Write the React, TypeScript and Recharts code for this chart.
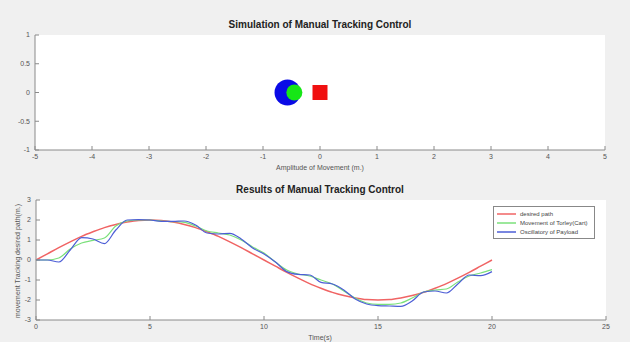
import React from 'react';
import {
  ScatterChart,
  Scatter,
  LineChart,
  Line,
  XAxis,
  YAxis,
  CartesianGrid,
} from 'recharts';

// Simulation panel (top)
const simTicksX = [-5, -4, -3, -2, -1, 0, 1, 2, 3, 4, 5];
const simTicksY = [-1, -0.5, 0, 0.5, 1];
const payloadPos = [{ x: -0.57, y: 0 }];
const cartPos = [{ x: -0.45, y: 0 }];
const targetPos = [{ x: 0, y: 0 }];

// Results panel (bottom)
const time = [
  0, 0.5, 1, 1.5, 2, 2.5, 3, 3.5, 4, 4.5, 5, 5.5, 6, 6.5, 7, 7.5, 8, 8.5, 9, 9.5, 10,
  10.5, 11, 11.5, 12, 12.5, 13, 13.5, 14, 14.5, 15, 15.5, 16, 16.5, 17, 17.5, 18, 18.5, 19, 19.5, 20,
];
const desiredPath = [
  0, 0.31, 0.62, 0.91, 1.18, 1.41, 1.62, 1.78, 1.9, 1.98, 2.0, 1.98, 1.9, 1.78, 1.62, 1.41, 1.18, 0.91, 0.62, 0.31, 0,
  -0.31, -0.62, -0.91, -1.18, -1.41, -1.62, -1.78, -1.9, -1.98, -2.0, -1.98, -1.9, -1.78, -1.62, -1.41, -1.18, -0.91, -0.62, -0.31, 0,
];
const cartMovement = [
  0, 0, 0.1, 0.55, 0.85, 0.98, 1.1, 1.7, 1.95, 2.0, 2.0, 1.95, 1.92, 1.88, 1.7, 1.45, 1.35, 1.25, 1.0, 0.65, 0.35,
  -0.1, -0.5, -0.7, -0.8, -1.0, -1.2, -1.55, -1.9, -2.15, -2.22, -2.22, -2.15, -1.9, -1.6, -1.5, -1.45, -1.1, -0.8, -0.65, -0.48,
];
const payloadOsc = [
  0, 0, -0.1, 0.5, 1.12, 1.05, 0.82, 1.5, 2.0, 2.02, 2.0, 1.93, 1.93, 1.95, 1.75, 1.35, 1.3, 1.33, 1.05, 0.6, 0.3,
  -0.1, -0.58, -0.72, -0.75, -1.12, -1.2, -1.5, -1.95, -2.2, -2.28, -2.3, -2.32, -2.05, -1.6, -1.55, -1.65, -1.2, -0.75, -0.78, -0.58,
];
const timeTicks = [0, 5, 10, 15, 20, 25];
const pathTicks = [-3, -2, -1, 0, 1, 2, 3];

const results = time.map((t, i) => ({
  t,
  desired: desiredPath[i],
  cart: cartMovement[i],
  payload: payloadOsc[i],
}));

const FONT = '"Liberation Sans", Arial, sans-serif';
const AXIS = '#8a8a8a';
const tickStyle = { fontSize: 7, fill: '#555', fontFamily: FONT };

const RED = '#f06464';
const GREEN = '#7be07b';
const BLUE = '#4d5ed6';

const legendItems = [
  { label: 'desired path', color: RED },
  { label: 'Movement of Torley(Cart)', color: GREEN },
  { label: 'Oscillatory of Payload', color: BLUE },
];

const Ball = (r: number, color: string) => (props: any) =>
  <circle cx={props.cx} cy={props.cy} r={r} fill={color} />;

const Box = (s: number, color: string) => (props: any) =>
  <rect x={props.cx - s / 2} y={props.cy - s / 2} width={s} height={s} fill={color} />;

export default function App() {
  return (
    <div style={{ position: 'absolute', left: 0, top: 0, width: 630, height: 342, background: '#f0f0f0', overflow: 'hidden', fontFamily: FONT }}>
      <div style={{ position: 'absolute', left: 0, width: 640, top: 19, textAlign: 'center', fontSize: 10, fontWeight: 'bold', color: '#222' }}>
        Simulation of Manual Tracking Control
      </div>
      <div style={{ position: 'absolute', left: 0, width: 640, top: 164, textAlign: 'center', fontSize: 7, color: '#555' }}>
        Amplitude of Movement (m.)
      </div>

      <div style={{ position: 'absolute', left: 0, top: 0 }}>
        <ScatterChart width={630} height={175} margin={{ top: 35, right: 25, bottom: 5, left: 0 }}>
          <CartesianGrid horizontal={false} vertical={false} fill="#fff" />
          <XAxis type="number" dataKey="x" domain={[-5, 5]} ticks={simTicksX} height={20}
            stroke={AXIS} tickSize={-4} tickMargin={8} tick={tickStyle} allowDataOverflow />
          <YAxis type="number" dataKey="y" domain={[-1, 1]} ticks={simTicksY} width={35}
            stroke={AXIS} tickSize={-4} tickMargin={9} tick={tickStyle} allowDataOverflow />
          <Scatter data={payloadPos} shape={Ball(13, '#0a0ae6')} isAnimationActive={false} />
          <Scatter data={cartPos} shape={Ball(8, '#16e616')} isAnimationActive={false} />
          <Scatter data={targetPos} shape={Box(15, '#f01010')} isAnimationActive={false} />
        </ScatterChart>
      </div>

      <div style={{ position: 'absolute', left: 0, width: 640, top: 184, textAlign: 'center', fontSize: 10, fontWeight: 'bold', color: '#222' }}>
        Results of Manual Tracking Control
      </div>
      <div style={{ position: 'absolute', left: 0, width: 640, top: 334, textAlign: 'center', fontSize: 7, color: '#555' }}>
        Time(s)
      </div>
      <div style={{ position: 'absolute', left: 17, top: 261, width: 0, height: 0 }}>
        <div style={{ position: 'absolute', transform: 'translate(-50%, -50%) rotate(-90deg)', whiteSpace: 'nowrap', fontSize: 7, color: '#555' }}>
          movement Tracking desired path(m.)
        </div>
      </div>

      <div style={{ position: 'absolute', left: 0, top: 175 }}>
        <LineChart width={630} height={167} data={results} margin={{ top: 25, right: 24, bottom: 8, left: 0 }}>
          <CartesianGrid horizontal={false} vertical={false} fill="#fff" />
          <XAxis type="number" dataKey="t" domain={[0, 25]} ticks={timeTicks} height={14}
            stroke={AXIS} tickSize={-4} tickMargin={8} tick={tickStyle} />
          <XAxis xAxisId="top" orientation="top" type="number" dataKey="t" domain={[0, 25]} ticks={timeTicks}
            height={0} stroke={AXIS} tickSize={-4} tick={false} />
          <YAxis type="number" domain={[-3, 3]} ticks={pathTicks} width={36}
            stroke={AXIS} tickSize={-4} tickMargin={9} tick={tickStyle} />
          <YAxis yAxisId="right" orientation="right" type="number" domain={[-3, 3]} ticks={pathTicks}
            width={0} stroke={AXIS} tickSize={-4} tick={false} />
          <Line type="monotone" dataKey="desired" name="desired path" stroke={RED} strokeWidth={1.5} dot={false} isAnimationActive={false} />
          <Line type="monotone" dataKey="cart" name="Movement of Torley(Cart)" stroke={GREEN} strokeWidth={1.2} dot={false} isAnimationActive={false} />
          <Line type="monotone" dataKey="payload" name="Oscillatory of Payload" stroke={BLUE} strokeWidth={1.2} dot={false} isAnimationActive={false} />
        </LineChart>
      </div>

      <div style={{ position: 'absolute', left: 493, top: 206, width: 102, border: '1px solid #888', background: '#fff', padding: '2px 3px', fontSize: 6, color: '#444', boxSizing: 'border-box' }}>
        {legendItems.map((it) => (
          <div key={it.label} style={{ display: 'flex', alignItems: 'center', height: 9, whiteSpace: 'nowrap' }}>
            <svg width={19} height={4} style={{ marginRight: 4, flex: 'none' }}>
              <line x1={0} y1={2} x2={19} y2={2} stroke={it.color} strokeWidth={1.5} />
            </svg>
            <span>{it.label}</span>
          </div>
        ))}
      </div>
    </div>
  );
}
